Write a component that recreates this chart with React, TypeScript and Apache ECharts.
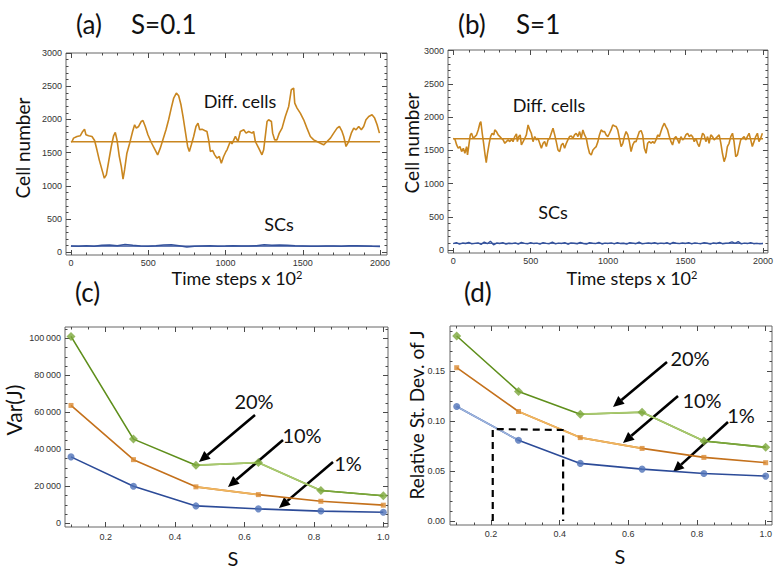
import React, { useEffect, useRef } from "react";
import * as echarts from "echarts";

// ---------- data ----------
// (a) S = 0.1 : differentiated cells (time step x100, cell number)
const diffA: [number, number][] = [
  [0, 1665], [7, 1668], [17, 1719], [39, 1744], [60, 1754], [76, 1819], [88, 1854], [97, 1769], [114, 1754], [136, 1744],
  [153, 1683], [168, 1543], [183, 1392], [201, 1241], [216, 1116], [229, 1166], [244, 1367], [261, 1593], [276, 1754], [287, 1804],
  [298, 1693], [313, 1442], [326, 1291], [337, 1101], [347, 1241], [362, 1492], [380, 1643], [399, 1819], [412, 1920], [423, 1869],
  [438, 1894], [455, 1970], [466, 1985], [481, 1894], [498, 1769], [520, 1653], [542, 1553], [561, 1467], [578, 1568], [595, 1693],
  [615, 1844], [632, 1995], [649, 2171], [665, 2322], [682, 2397], [697, 2357], [712, 2221], [725, 2045], [740, 1819], [755, 1593],
  [766, 1518], [779, 1618], [794, 1744], [809, 1894], [822, 1945], [833, 1844], [848, 1854], [865, 1834], [880, 1819], [891, 1693],
  [902, 1518], [917, 1533], [930, 1467], [945, 1417], [960, 1442], [973, 1340], [988, 1442], [1003, 1518], [1010, 1543], [1031, 1668],
  [1042, 1633], [1064, 1744], [1081, 1668], [1096, 1819], [1118, 1844], [1133, 1794], [1150, 1819], [1172, 1794], [1182, 1819], [1193, 1668],
  [1215, 1568], [1236, 1467], [1247, 1543], [1269, 1970], [1279, 1995], [1297, 1970], [1305, 1794], [1318, 1693], [1333, 1693], [1348, 1794],
  [1366, 1869], [1387, 2045], [1409, 2196], [1426, 2447], [1441, 2472], [1448, 2246], [1463, 2171], [1484, 2095], [1506, 1995], [1527, 1869],
  [1549, 1744], [1571, 1693], [1592, 1668], [1614, 1643], [1635, 1618], [1657, 1668], [1679, 1719], [1700, 1794], [1722, 1869], [1737, 1894],
  [1754, 1819], [1765, 1744], [1780, 1593], [1797, 1668], [1814, 1794], [1830, 1869], [1845, 1844], [1862, 1894], [1879, 1844], [1894, 1894],
  [1909, 1995], [1927, 2045], [1948, 2070], [1965, 2020], [1981, 1920], [1996, 1794],
];
// (a) stem cells, sampled every 50 steps
const scATimes = [0, 50, 100, 150, 200, 250, 300, 350, 400, 450, 500, 550, 600, 650, 700, 750, 800, 850, 900, 950, 1000,
  1050, 1100, 1150, 1200, 1250, 1300, 1350, 1400, 1450, 1500, 1550, 1600, 1650, 1700, 1750, 1800, 1850, 1900, 1950, 2000];
const scAValues = [95, 92, 98, 90, 105, 110, 100, 118, 105, 95, 92, 98, 112, 115, 100, 80, 90, 95, 98, 92, 95,
  100, 96, 94, 100, 115, 105, 110, 108, 98, 95, 92, 90, 95, 96, 92, 100, 98, 94, 90, 88];

// (b) S = 1 : differentiated cells
const diffB: [number, number][] = [
  [0, 1680], [11, 1667], [22, 1581], [32, 1531], [43, 1556], [54, 1481], [65, 1531], [75, 1456], [86, 1556], [92, 1431],
  [101, 1581], [110, 1732], [118, 1757], [129, 1682], [140, 1707], [150, 1732], [161, 1807], [172, 1908], [178, 1933], [187, 1757],
  [196, 1606], [204, 1456], [213, 1315], [221, 1456], [232, 1606], [241, 1707], [251, 1757], [262, 1732], [268, 1807], [279, 1782],
  [290, 1732], [301, 1707], [311, 1682], [322, 1657], [333, 1606], [343, 1631], [354, 1657], [365, 1631], [376, 1667], [386, 1631],
  [397, 1707], [408, 1747], [414, 1631], [423, 1707], [432, 1732], [440, 1581], [451, 1631], [462, 1682], [472, 1732], [483, 1883],
  [494, 1807], [504, 1757], [515, 1631], [526, 1707], [537, 1657], [547, 1682], [558, 1606], [569, 1531], [580, 1606], [590, 1631],
  [601, 1556], [612, 1657], [622, 1682], [633, 1757], [644, 1832], [655, 1732], [665, 1631], [676, 1506], [687, 1481], [698, 1581],
  [708, 1606], [719, 1531], [730, 1606], [740, 1657], [751, 1707], [762, 1717], [773, 1682], [783, 1732], [794, 1757], [805, 1707],
  [816, 1782], [826, 1682], [837, 1807], [848, 1732], [859, 1682], [869, 1556], [880, 1456], [891, 1431], [902, 1506], [912, 1531],
  [923, 1556], [934, 1631], [944, 1732], [955, 1807], [966, 1782], [977, 1782], [987, 1732], [998, 1707], [1009, 1757], [1019, 1807],
  [1030, 1883], [1041, 1867], [1052, 1857], [1062, 1807], [1073, 1682], [1084, 1556], [1095, 1606], [1105, 1707], [1116, 1782], [1127, 1732],
  [1137, 1631], [1148, 1481], [1159, 1581], [1170, 1631], [1180, 1631], [1191, 1707], [1202, 1782], [1213, 1797], [1223, 1732], [1234, 1531],
  [1245, 1456], [1255, 1606], [1266, 1631], [1277, 1606], [1288, 1631], [1298, 1606], [1309, 1657], [1320, 1732], [1331, 1707], [1341, 1782],
  [1352, 1857], [1363, 1908], [1373, 1857], [1384, 1807], [1395, 1707], [1406, 1631], [1416, 1581], [1427, 1682], [1438, 1707], [1449, 1657],
  [1459, 1606], [1470, 1707], [1481, 1657], [1492, 1682], [1502, 1732], [1513, 1757], [1524, 1707], [1534, 1732], [1545, 1707], [1556, 1631],
  [1567, 1682], [1577, 1606], [1588, 1556], [1599, 1657], [1610, 1757], [1620, 1732], [1631, 1631], [1642, 1707], [1652, 1606], [1663, 1732],
  [1674, 1707], [1685, 1657], [1695, 1682], [1706, 1707], [1717, 1732], [1728, 1606], [1738, 1456], [1749, 1330], [1760, 1406], [1770, 1556],
  [1781, 1606], [1792, 1707], [1803, 1757], [1813, 1631], [1824, 1406], [1835, 1431], [1846, 1556], [1856, 1657], [1867, 1682], [1878, 1707],
  [1889, 1657], [1899, 1707], [1910, 1757], [1921, 1657], [1931, 1556], [1942, 1631], [1953, 1707], [1964, 1757], [1974, 1631], [1985, 1682],
  [1996, 1757],
];
// (b) stem cells, sampled every 20 steps
const scBValues = [95, 110, 88, 105, 98, 115, 92, 100, 108, 85,
  120, 95, 132, 78, 105, 98, 112, 90, 102, 96,
  108, 88, 115, 100, 93, 110, 97, 104, 89, 112,
  100, 95, 118, 92, 103, 99, 110, 87, 106, 101,
  94, 113, 98, 90, 109, 102, 96, 115, 91, 104,
  99, 108, 93, 112, 97, 101, 88, 110, 104, 95,
  117, 92, 100, 106, 98, 111, 94, 103, 97, 109,
  90, 114, 101, 96, 105, 99, 112, 93, 107, 100,
  95, 110, 102, 89, 106, 98, 115, 94, 101, 108,
  122, 99, 126, 92, 104, 97, 111, 95, 100, 93, 98];
const scBStep = 20;

const meanDiffA = 1665;
const meanScA = 95;
const meanDiffB = 1675;
const meanScB = 100;

// (c), (d): S values and the three noise levels
const sValues = [0.1, 0.28, 0.46, 0.64, 0.82, 1.0];
const var20 = [101000, 45500, 31400, 32800, 17700, 14900];
const var10 = [63700, 34400, 19700, 15500, 11900, 9800];
const var1 = [35900, 20000, 9400, 7800, 6600, 6000];
const rsd20 = [0.185, 0.1296, 0.1068, 0.1088, 0.08, 0.0737];
const rsd10 = [0.1533, 0.1095, 0.0834, 0.0726, 0.0636, 0.0583];
const rsd1 = [0.1145, 0.0807, 0.0576, 0.0519, 0.0475, 0.0449];
const dashedS = [0.205, 0.205, 0.41, 0.41];
const dashedR = [0, 0.092, 0.091, 0];

// tick labels
const timeTicks = [0, 500, 1000, 1500, 2000];
const cellTicks = [0, 500, 1000, 1500, 2000, 2500, 3000];
const sTicks = [0.2, 0.4, 0.6, 0.8, 1.0];
const varTicks = [0, 20000, 40000, 60000, 80000, 100000];
const rsdTicks = [0, 0.05, 0.1, 0.15];

// ---------- helpers ----------
const steps = (a: number, b: number, st: number, skip: number[]) => {
  const out: number[] = [];
  const n = Math.round((b - a) / st);
  for (let i = 0; i <= n; i++) {
    const v = +(a + i * st).toFixed(6);
    if (!skip.some((s) => Math.abs(s - v) < 1e-9)) out.push(v);
  }
  return out;
};

const TICK = "#4a4a4a";
const LABEL_FONT = "Liberation Sans, Arial, sans-serif";
const TXT_FONT = "Lato, 'Open Sans', sans-serif";

function frameAxes(
  grid: number, dim: "x" | "y", min: number, max: number,
  major: number[], minor: number[], fmt: (v: number) => string, margin: number
) {
  const posA = dim === "x" ? "bottom" : "left";
  const posB = dim === "x" ? "top" : "right";
  const mk = (pos: string, ticks: number[], len: number, labels: boolean) => ({
    type: "value", gridIndex: grid, min, max, position: pos,
    axisLine: { show: false, onZero: false },
    splitLine: { show: false },
    minorTick: { show: false },
    axisTick: { show: true, inside: true, length: len, customValues: ticks, lineStyle: { color: TICK, width: 1 } },
    axisLabel: labels
      ? { show: true, customValues: major, formatter: fmt, margin, fontSize: 9, color: "#333", fontFamily: LABEL_FONT }
      : { show: false },
  });
  return [mk(posA, major, 5, true), mk(posA, minor, 2.5, false), mk(posB, major, 5, false), mk(posB, minor, 2.5, false)];
}

const text = (t: string, x: number, y: number, size: number, extra: any = {}) => ({
  type: "text", x, y, silent: true, ...extra,
  style: {
    text: t, fontSize: size, fontFamily: TXT_FONT, fill: "#111",
    align: extra.align || "center", verticalAlign: "middle",
    textAlign: extra.align || "center", textVerticalAlign: "middle",
    ...(extra.style || {}),
  },
});

const arrow = (x1: number, y1: number, x2: number, y2: number) => {
  const a = Math.atan2(y2 - y1, x2 - x1);
  const L = 11, W = 5;
  const bx = x2 - L * Math.cos(a), by = y2 - L * Math.sin(a);
  const px = -Math.sin(a), py = Math.cos(a);
  return [
    { type: "line", silent: true, shape: { x1, y1, x2: bx, y2: by }, style: { stroke: "#000", lineWidth: 2.6 } },
    { type: "polygon", silent: true, shape: { points: [[x2, y2], [bx + W * px, by + W * py], [bx - W * px, by - W * py]] }, style: { fill: "#000" } },
  ];
};

const ORANGE_TS = "#c9861f";
const BLUE_TS = "#34529c";
const GREEN = "#5f8f1c", GREEN_L = "#a9c96e", GREEN_M = "#7aa63a";
const ORANGE = "#c4711c", ORANGE_L = "#f0b660", ORANGE_M = "#d98a32";
const BLUE = "#2c4b98", BLUE_L = "#9cb4de", BLUE_M = "#4f72b8";

export default function App() {
  const ref = useRef<HTMLDivElement>(null);
  useEffect(() => {
    if (!ref.current) return;
    const chart = echarts.init(ref.current, undefined, { renderer: "svg" });

    const grids = [
      { left: 66, top: 53, width: 321, height: 202 },
      { left: 448, top: 50, width: 321, height: 203 },
      { left: 65, top: 327, width: 323, height: 200 },
      { left: 450, top: 326, width: 322, height: 199 },
    ].map((g) => ({ ...g, show: true, borderColor: "#666", borderWidth: 1, backgroundColor: "transparent" }));

    const intFmt = (v: number) => String(Math.round(v));
    const varFmt = (v: number) => (v === 0 ? "0" : `${Math.round(v / 1000)}\u2009000`);
    const s1 = (v: number) => v.toFixed(1);
    const s2 = (v: number) => v.toFixed(2);

    const xAxis = [
      ...frameAxes(0, "x", -32, 2045, timeTicks, steps(0, 2000, 100, timeTicks), intFmt, 3),
      ...frameAxes(1, "x", -34, 2032, timeTicks, steps(0, 2000, 100, timeTicks), intFmt, 3),
      ...frameAxes(2, "x", 0.0827, 1.0135, sTicks, steps(0.1, 1.0, 0.05, sTicks), s1, 5),
      ...frameAxes(3, "x", 0.0805, 1.0184, sTicks, steps(0.1, 1.0, 0.05, sTicks), s1, 4),
    ];
    const yAxis = [
      ...frameAxes(0, "y", -40, 3000, cellTicks, steps(0, 3000, 100, cellTicks), intFmt, 4),
      ...frameAxes(1, "y", -45, 3010, cellTicks, steps(0, 3000, 100, cellTicks), intFmt, 4),
      ...frameAxes(2, "y", -2000, 106100, varTicks, steps(0, 105000, 5000, varTicks), varFmt, 4),
      ...frameAxes(3, "y", -0.004, 0.195, rsdTicks, steps(0, 0.19, 0.01, rsdTicks), s2, 5),
    ];

    const ax = (p: number) => ({ xAxisIndex: p * 4, yAxisIndex: p * 4 });
    const ln = (p: number, data: any[], color: string, width = 1.5, extra: any = {}) => ({
      type: "line", ...ax(p), data, showSymbol: false, silent: true,
      lineStyle: { color, width }, itemStyle: { color }, z: 2, ...extra,
    });
    const pts = (xs: number[], ys: number[], from = 0, to = xs.length - 1) =>
      xs.slice(from, to + 1).map((x, i) => [x, ys[from + i]]);
    const marks = (p: number, ys: number[], symbol: string, size: number, color: string) => ({
      type: "scatter", ...ax(p), data: pts(sValues, ys), symbol, symbolSize: size, silent: true,
      itemStyle: { color }, z: 5,
    });

    const series: any[] = [
      // (a)
      ln(0, diffA, ORANGE_TS, 1.6),
      ln(0, [[0, meanDiffA], [2000, meanDiffA]], ORANGE_TS, 1.6),
      ln(0, scATimes.map((t, i) => [t, scAValues[i]]), BLUE_TS, 1.5),
      ln(0, [[0, meanScA], [2000, meanScA]], BLUE_TS, 1.2),
      // (b)
      ln(1, diffB, ORANGE_TS, 1.6),
      ln(1, [[0, meanDiffB], [2000, meanDiffB]], ORANGE_TS, 1.6),
      ln(1, scBValues.map((v, i) => [i * scBStep, v]), BLUE_TS, 1.4),
      ln(1, [[0, meanScB], [2000, meanScB]], BLUE_TS, 1.0),
      // (c)
      ln(2, pts(sValues, var20), GREEN, 1.6),
      ln(2, pts(sValues, var20, 2, 4), GREEN_L, 1.8, { z: 3 }),
      ln(2, pts(sValues, var20, 4, 5), GREEN_M, 1.6, { z: 3 }),
      ln(2, pts(sValues, var10), ORANGE, 1.6),
      ln(2, pts(sValues, var10, 2, 3), ORANGE_L, 1.8, { z: 3 }),
      ln(2, pts(sValues, var1), BLUE, 1.6),
      marks(2, var20, "diamond", 9, GREEN_M),
      marks(2, var10, "rect", 5, ORANGE_M),
      marks(2, var1, "circle", 7, BLUE_M),
      // (d)
      ln(3, pts(sValues, rsd20), GREEN, 1.6),
      ln(3, pts(sValues, rsd20, 2, 4), GREEN_L, 1.8, { z: 3 }),
      ln(3, pts(sValues, rsd20, 4, 5), GREEN_M, 1.6, { z: 3 }),
      ln(3, pts(sValues, rsd10), ORANGE, 1.6),
      ln(3, pts(sValues, rsd10, 1, 3), ORANGE_L, 1.8, { z: 3 }),
      ln(3, pts(sValues, rsd1), BLUE, 1.6),
      ln(3, pts(sValues, rsd1, 0, 1), BLUE_L, 1.6, { z: 3 }),
      marks(3, rsd20, "diamond", 9, GREEN_M),
      marks(3, rsd10, "rect", 5, ORANGE_M),
      marks(3, rsd1, "circle", 7, BLUE_M),
      ln(3, pts(dashedS, dashedR), "#000", 2.2, { lineStyle: { color: "#000", width: 2.2, type: [7, 5] }, z: 4 }),
    ];

    const supRich = { rich: { s: { fontSize: 11, fontFamily: TXT_FONT, verticalAlign: "top", lineHeight: 11 } } };
    const graphic: any[] = [
      // panel titles
      text("(a)", 76, 24, 26, { align: "left" }),
      text("S=0.1", 131, 24, 26, { align: "left" }),
      text("(b)", 458, 24, 26, { align: "left" }),
      text("S=1", 516, 24, 26, { align: "left" }),
      text("(c)", 75, 292, 26, { align: "left" }),
      text("(d)", 464, 292, 26, { align: "left" }),
      // axis titles
      text("Cell number", 22, 148, 19, { rotation: Math.PI / 2 }),
      text("Cell number", 411, 143, 19, { rotation: Math.PI / 2 }),
      text("Time steps x 10{s|2}", 237, 278, 18, { style: supRich }),
      text("Time steps x 10{s|2}", 632, 278, 18, { style: supRich }),
      text("Var(J)", 13, 410, 21, { rotation: Math.PI / 2 }),
      text("Relative St. Dev. of J", 416, 415, 19, { rotation: Math.PI / 2 }),
      text("S", 233, 558, 20),
      text("S", 620, 556, 20),
      // curve labels
      text("Diff. cells", 240, 101, 18),
      text("Diff. cells", 549, 105, 18),
      text("SCs", 279, 224, 18),
      text("SCs", 553, 212, 18),
      // percentages
      text("20%", 254, 401, 20),
      text("10%", 302, 435, 20),
      text("1%", 348, 463, 20),
      text("20%", 690, 358, 20),
      text("10%", 702, 400, 20),
      text("1%", 741, 415, 20),
      // arrows
      ...arrow(255, 415, 199, 462),
      ...arrow(283, 440, 228, 487),
      ...arrow(333, 462, 279, 508),
      ...arrow(667, 362, 613, 407),
      ...arrow(678, 396, 623, 443),
      ...arrow(728, 422, 673, 472),
    ];

    chart.setOption({
      animation: false,
      backgroundColor: "#fff",
      grid: grids,
      xAxis,
      yAxis,
      series,
      graphic,
    });
    return () => chart.dispose();
  }, []);
  return <div ref={ref} style={{ position: "fixed", left: 0, top: 0, width: 776, height: 571 }} />;
}
